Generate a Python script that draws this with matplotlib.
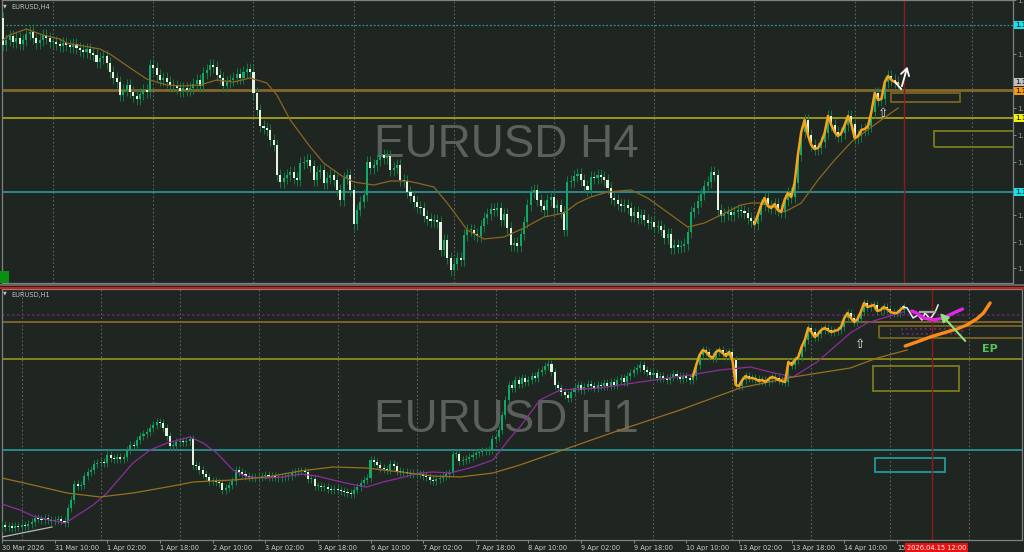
import numpy as np
import matplotlib
matplotlib.use("Agg")
import matplotlib.pyplot as plt
from matplotlib.patches import Rectangle
from matplotlib.lines import Line2D
from matplotlib.transforms import blended_transform_factory

W, H = 1024, 552
BG = '#1f2622'
GRID = '#5c625e'
BULL = '#0fa866'
BEAR = '#e4f4dc'
WICK_C = '#147a46'

# ---------------- data (prices x 10000) ----------------
# EURUSD H4 (top pane)
h4_first_open = 11782
h4_close = [
    11755, 11760, 11764, 11758, 11762, 11756, 11760, 11766, 11768, 11762,
    11757, 11760, 11765, 11762, 11758, 11758, 11756, 11754, 11757, 11755,
    11753, 11756, 11752, 11750, 11748, 11751, 11747, 11745, 11738, 11742,
    11744, 11737, 11728, 11722, 11718, 11705, 11710, 11715, 11708, 11704,
    11701, 11706, 11710, 11708, 11735, 11732, 11725, 11720, 11722, 11718,
    11715, 11714, 11712, 11709, 11712, 11710, 11712, 11716, 11720, 11714,
    11727, 11730, 11735, 11733, 11725, 11722, 11714, 11718, 11720, 11722,
    11726, 11722, 11728, 11731, 11728, 11707, 11690, 11674, 11672, 11670,
    11660, 11655, 11625, 11618, 11622, 11625, 11628, 11622, 11620, 11637,
    11638, 11640, 11634, 11620, 11628, 11630, 11617, 11622, 11625, 11620,
    11610, 11600, 11622, 11625, 11610, 11576, 11590, 11598, 11605, 11638,
    11632, 11635, 11640, 11645, 11642, 11644, 11630, 11632, 11635, 11620,
    11619, 11608, 11604, 11598, 11593, 11592, 11584, 11581, 11579, 11580,
    11578, 11550, 11560, 11542, 11530, 11536, 11542, 11540, 11565, 11570,
    11570, 11566, 11564, 11574, 11582, 11586, 11591, 11590, 11592, 11580,
    11586, 11572, 11555, 11557, 11554, 11566, 11578, 11595, 11608, 11610,
    11600, 11594, 11590, 11600, 11603, 11592, 11595, 11588, 11570, 11618,
    11619, 11624, 11626, 11620, 11614, 11610, 11623, 11622, 11625, 11623,
    11620, 11612, 11602, 11600, 11596, 11594, 11595, 11592, 11584, 11588,
    11582, 11585, 11580, 11577, 11578, 11573, 11574, 11570, 11562, 11566,
    11552, 11555, 11553, 11554, 11556, 11568, 11588, 11592, 11599, 11606,
    11614, 11618, 11628, 11625, 11590, 11584, 11586, 11588, 11585, 11588,
    11590, 11589, 11587, 11582, 11579, 11576, 11585, 11595, 11602, 11594,
    11592, 11596, 11590, 11588, 11600, 11607, 11603, 11617, 11645, 11668,
    11680, 11665, 11655, 11651, 11652, 11658, 11667, 11684, 11675, 11668,
    11664, 11667, 11675, 11684, 11676, 11662, 11664, 11670, 11671, 11674,
    11688, 11707, 11700, 11701, 11718, 11724, 11720, 11718, 11716,
]
h4_zigzag_from = 225
h4_ma_bar = [0, 2, 7, 12, 17, 19, 29, 32, 39, 43, 49, 54, 59, 64, 69, 74, 79, 82, 86,
             92, 96, 101, 105, 111, 116, 121, 124, 129, 133, 139, 144, 150, 156, 162,
             168, 172, 176, 181, 188, 193, 198, 205, 210, 215, 221, 224, 228, 234,
             239, 244, 249, 254, 260, 268]
h4_ma_val = [11760, 11765, 11771, 11765, 11761, 11757, 11751, 11746, 11730, 11721,
             11715, 11714, 11715, 11720, 11718, 11722, 11717, 11705, 11680, 11653,
             11637, 11625, 11618, 11615, 11619, 11619, 11617, 11613, 11597, 11570,
             11561, 11563, 11572, 11583, 11587, 11597, 11603, 11608, 11610, 11602,
             11590, 11573, 11577, 11585, 11595, 11597, 11597, 11588, 11597, 11620,
             11640, 11658, 11673, 11692]
h4_levels = {'cyan_dot': 11775, 'brown': 11710, 'yellow': 11682, 'cyan': 11608}
h4_zones = [(265.9, 286.5, 11698, 11707, '#7a6222'), (278.7, 306.0, 11653, 11669, '#7c7a1c')]
h4_ticks = [11800, 11746, 11692, 11665, 11638, 11585, 11558, 11532]
h4_tags = [(11775, '#19e0e6'), (11718, '#bfbfbf'), (11709, '#f29a12'),
           (11682, '#f0f010'), (11608, '#19e0e6')]
h4_arrow_bar = [267.1, 268.9, 271.0]
h4_arrow_val = [11718, 11711, 11736]
h4_grid = [15, 45, 75, 105, 135, 165, 195, 225, 255, 290]
h4_now = 269.8

# EURUSD H1 (bottom pane)
h1_first_open = 11372
h1_close = [
    11375, 11373, 11374, 11372, 11374, 11373, 11375, 11374, 11376, 11378,
    11382, 11381, 11380, 11382, 11380, 11379, 11380, 11381, 11379, 11377,
    11392, 11400, 11416, 11414, 11415, 11424, 11428, 11430, 11436, 11437,
    11438, 11437, 11445, 11442, 11441, 11443, 11441, 11443, 11450, 11455,
    11454, 11460, 11464, 11466, 11468, 11472, 11475, 11478, 11477, 11472,
    11464, 11454, 11454, 11458, 11459, 11458, 11459, 11461, 11435, 11434,
    11430, 11426, 11423, 11419, 11419, 11418, 11417, 11410, 11412, 11415,
    11419, 11430, 11428, 11426, 11424, 11423, 11423, 11422, 11423, 11424,
    11425, 11423, 11424, 11423, 11422, 11423, 11424, 11424, 11427, 11428,
    11429, 11429, 11428, 11421, 11421, 11414, 11414, 11413, 11413, 11411,
    11410, 11411, 11410, 11409, 11408, 11407, 11406, 11410, 11413, 11417,
    11420, 11422, 11440, 11438, 11435, 11432, 11431, 11430, 11436, 11434,
    11429, 11428, 11428, 11427, 11426, 11427, 11426, 11426, 11424, 11423,
    11420, 11419, 11421, 11422, 11424, 11426, 11427, 11446, 11446, 11439,
    11440, 11441, 11443, 11445, 11447, 11448, 11449, 11449, 11450, 11461,
    11463, 11470, 11485, 11500, 11515, 11512, 11520, 11516, 11522, 11518,
    11520, 11524, 11522, 11528, 11530, 11534, 11536, 11528, 11515, 11512,
    11508, 11505, 11502, 11508, 11512, 11515, 11510, 11513, 11516, 11514,
    11512, 11515, 11514, 11517, 11514, 11518, 11515, 11520, 11522, 11518,
    11524, 11527, 11530, 11532, 11535, 11530, 11528, 11525, 11527, 11522,
    11524, 11522, 11520, 11523, 11526, 11524, 11521, 11524, 11522, 11520,
    11524, 11535, 11545, 11550, 11548, 11544, 11542, 11548, 11550, 11547,
    11544, 11548, 11540, 11515, 11514, 11520, 11524, 11522, 11522, 11521,
    11519, 11520, 11518, 11521, 11523, 11522, 11520, 11519, 11518, 11538,
    11535, 11540, 11543, 11553, 11560, 11572, 11568, 11563, 11566, 11570,
    11572, 11570, 11568, 11569, 11570, 11573, 11582, 11587, 11582, 11578,
    11581, 11588, 11597, 11593, 11594, 11595, 11589, 11590, 11593, 11591,
    11588, 11587, 11587, 11590, 11593,
]
h1_zigzag_from = 210
h1_fast_bar = [0, 5.5, 9.4, 14.6, 19.1, 20.7, 27.7, 31.9, 39.8, 45, 50.2, 57.1, 61.1, 65.3,
               70.2, 74.5, 80.5, 85.4, 90.6, 95.7, 100.6, 105.8, 110.9, 115.8, 121, 127,
               131, 136.2, 143.2, 149.2, 154.4, 157.4, 163.5, 169.6, 181.8, 193.9, 209.1,
               218.2, 227.4, 233.4, 240.4, 247.7, 252.6, 257.8, 262.9, 267.8, 273.9]
h1_fast_val = [11396, 11390, 11384, 11380, 11377, 11380, 11395, 11407, 11437, 11450, 11457,
               11463, 11457, 11447, 11430, 11423, 11422, 11423, 11426, 11424, 11420, 11416,
               11413, 11418, 11422, 11427, 11428, 11427, 11433, 11440, 11462, 11473, 11500,
               11510, 11512, 11518, 11525, 11530, 11533, 11528, 11523, 11538, 11552, 11567,
               11577, 11582, 11588]
h1_slow_bar = [0, 9.4, 19.8, 29.8, 39.8, 50.2, 58.1, 70.2, 80.5, 90.6, 100.6, 110.9, 121,
               131, 139.2, 149.2, 157.4, 174.8, 187.8, 206.1, 224.3, 240.4, 257.8, 266, 275.1]
h1_slow_val = [11422, 11415, 11407, 11403, 11407, 11413, 11418, 11420, 11423, 11429, 11433,
               11432, 11428, 11424, 11423, 11427, 11435, 11455, 11470, 11490, 11512, 11523,
               11532, 11542, 11550]
h1_levels = {'purple_dot': 11585, 'brown': 11578, 'olive': 11541, 'cyan': 11450}
h1_zones = [(266.6, 312.0, 11562, 11574, '#7a6222', '-'),
            (273.6, 291.8, 11566, 11571, '#6a2a7a', ':'),
            (264.7, 290.9, 11509, 11534, '#7c7a1c', '-'),
            (265.3, 286.6, 11428, 11442, '#1f9a9a', '-')]
h1_tick_labels = ['30 Mar 2026', '31 Mar 10:00', '1 Apr 02:00', '1 Apr 18:00', '2 Apr 10:00',
                  '3 Apr 02:00', '3 Apr 18:00', '6 Apr 10:00', '7 Apr 02:00', '7 Apr 18:00',
                  '8 Apr 10:00', '9 Apr 02:00', '9 Apr 18:00', '10 Apr 10:00', '13 Apr 02:00',
                  '13 Apr 18:00', '14 Apr 10:00', '15']
h1_now = 282.7
h1_now_label = '2026.04.15 12:00'
h1_white_bar = [273.9, 275.1, 276.0, 276.9, 278.4, 279.6, 280.5, 282.1, 283.6, 284.5]
h1_white_val = [11593, 11592, 11587, 11582, 11585, 11580, 11587, 11581, 11588, 11595]
h1_magenta_bar = [276.5, 278.0, 280.0, 283.1, 286.1, 289.2, 291.9]
h1_magenta_val = [11589, 11587, 11582, 11580, 11582, 11587, 11591]
h1_orange_bar = [274.5, 278.0, 282.1, 286.1, 290.2, 293.2, 296.2, 298.3, 300.3]
h1_orange_val = [11554, 11558, 11563, 11567, 11571, 11575, 11581, 11587, 11597]
h1_trend_bar = [0, 15.2]
h1_trend_val = [11363, 11373]

S = 1e4


def fx(px):
    return px / W


def fy(py):
    return 1 - py / H


def draw_candles(ax, first_open, closes, wick):
    c = np.asarray(closes, float) / S
    o = np.concatenate([[first_open / S], c[:-1]])
    x = np.arange(len(c))
    hi = np.maximum(o, c) + wick
    lo = np.minimum(o, c) - wick
    ax.vlines(x, lo, hi, color=WICK_C, lw=0.7, zorder=3)
    up = c >= o
    bh = np.maximum(np.abs(c - o), 0.00012)
    bot = np.minimum(o, c)
    ax.bar(x[up], bh[up], bottom=bot[up], width=0.62, color=BULL, lw=0, zorder=4)
    ax.bar(x[~up], bh[~up], bottom=bot[~up], width=0.62, color=BEAR, lw=0, zorder=4)
    return x, c


def style_ax(ax):
    ax.set_facecolor(BG)
    for s in ax.spines.values():
        s.set_color('#7d827f')
        s.set_linewidth(0.9)


fig = plt.figure(figsize=(W / 100, H / 100), dpi=100, facecolor=BG)

# ---------------- top pane (H4) ----------------
ax1 = fig.add_axes([fx(2), fy(283), fx(1013 - 2), 283 / H])
style_ax(ax1)
ax1.set_xlim(-0.3, 302.4)
ax1.set_ylim(1.1517, 1.1800)
for g in h4_grid:
    ax1.axvline(g, color=GRID, lw=0.8, ls=(0, (1.5, 2)), zorder=1)
ax1.axhline(h4_levels['cyan_dot'] / S, color='#2a8f95', lw=0.9, ls=(0, (1.5, 1.5)), zorder=2)
ax1.axhline(h4_levels['brown'] / S, color='#86672a', lw=2.0, zorder=2)
ax1.axhline(h4_levels['yellow'] / S, color='#9a9a18', lw=1.4, zorder=2)
ax1.axhline(h4_levels['cyan'] / S, color='#2a9a9c', lw=1.2, zorder=2)
for x0, x1, y0, y1, col in h4_zones:
    ax1.add_patch(Rectangle((x0, y0 / S), x1 - x0, (y1 - y0) / S, fill=False,
                            ec=col, lw=1.3, zorder=2, clip_on=True))
ax1.axvline(h4_now, color='#8c1c1c', lw=1.0, zorder=2)
ax1.text(0.499, 1.1643, 'EURUSD H4', transform=blended_transform_factory(ax1.transAxes, ax1.transData),
         ha='center', va='baseline', fontsize=33, family='Liberation Sans', color='#5b605d', zorder=0.5)
xb, cb = draw_candles(ax1, h4_first_open, h4_close, 0.0006)
ax1.plot(np.array(h4_ma_bar), np.array(h4_ma_val) / S, color='#8a6621', lw=0.9, zorder=5)
ax1.plot(xb[h4_zigzag_from:], cb[h4_zigzag_from:], color='#f4a41c', lw=1.8, zorder=6,
         solid_joinstyle='round')
ax1.plot(h4_arrow_bar[:2], np.array(h4_arrow_val[:2]) / S, color='white', lw=1.3, zorder=7)
ax1.annotate('', xy=(h4_arrow_bar[2], h4_arrow_val[2] / S),
             xytext=(h4_arrow_bar[1], h4_arrow_val[1] / S),
             arrowprops=dict(arrowstyle='->,head_length=0.5,head_width=0.3', color='white', lw=1.3),
             zorder=7)
ax1.text(263.5, 1.1687, '⇧', color='#e8e8e8', fontsize=9, ha='center', va='center', zorder=7)
ax1.text(0.009, 0.985, 'EURUSD,H4', transform=ax1.transAxes, fontsize=4.8, color='#bfc3c0',
         va='top', ha='left')
ax1.text(0.001, 0.988, '▼', transform=ax1.transAxes, fontsize=3.5, color='#bfc3c0',
         va='top', ha='left')
ax1.yaxis.tick_right()
ax1.set_yticks(np.array(h4_ticks) / S)
ax1.set_yticklabels([f'{v / S:.5f}' for v in h4_ticks])
ax1.tick_params(axis='y', colors='#9a9e9b', labelsize=5, length=2, pad=1, width=0.6)
ax1.tick_params(axis='x', length=0, labelbottom=False)
tr1 = blended_transform_factory(ax1.transAxes, ax1.transData)
for v, col in h4_tags:
    ax1.text(1.002, v / S, f'{v / S:.5f}', transform=tr1, fontsize=5, color='black',
             va='center', ha='left', clip_on=False,
             bbox=dict(boxstyle='square,pad=0.2', fc=col, ec='none'))

# ---------------- bottom pane (H1) ----------------
ax2 = fig.add_axes([fx(2), fy(540), fx(1022 - 2), (540 - 289) / H])
style_ax(ax2)
ax2.set_xlim(0, 310)
ax2.set_ylim(1.1360, 1.1611)
for g in range(6, 311, 24):
    ax2.axvline(g, color=GRID, lw=0.8, ls=(0, (1.5, 2)), zorder=1)
ax2.axhline(h1_levels['purple_dot'] / S, color='#5e2a6c', lw=1.2, ls=(0, (1.5, 1.5)), zorder=2)
ax2.axhline(h1_levels['brown'] / S, color='#86672a', lw=1.3, zorder=2)
ax2.axhline(h1_levels['olive'] / S, color='#8c8c1a', lw=1.3, zorder=2)
ax2.axhline(h1_levels['cyan'] / S, color='#2a9a9c', lw=1.2, zorder=2)
for x0, x1, y0, y1, col, ls in h1_zones:
    ax2.add_patch(Rectangle((x0, y0 / S), x1 - x0, (y1 - y0) / S, fill=False,
                            ec=col, lw=1.3, ls=ls, zorder=2))
ax2.axvline(h1_now, color='#8c1c1c', lw=1.0, zorder=2)
ax2.text(0.494, 1.1468, 'EURUSD H1', transform=blended_transform_factory(ax2.transAxes, ax2.transData),
         ha='center', va='baseline', fontsize=33, family='Liberation Sans', color='#5b605d', zorder=0.5)
xb2, cb2 = draw_candles(ax2, h1_first_open, h1_close, 0.0004)
ax2.plot(h1_fast_bar, np.array(h1_fast_val) / S, color='#8e2c9c', lw=0.9, zorder=5)
ax2.plot(h1_slow_bar, np.array(h1_slow_val) / S, color='#98701f', lw=0.9, zorder=5)
ax2.plot(xb2[h1_zigzag_from:], cb2[h1_zigzag_from:], color='#f4a41c', lw=1.8, zorder=6,
         solid_joinstyle='round')
ax2.plot(h1_trend_bar, np.array(h1_trend_val) / S, color='#b8b8b8', lw=0.9, zorder=6)
ax2.plot(h1_white_bar, np.array(h1_white_val) / S, color='#f0f0f0', lw=1.1, zorder=6)
ax2.plot([279.0, 283.6], [1.1588, 1.1588], color='#a8a8a8', lw=1.6, zorder=6)
ax2.plot(h1_magenta_bar, np.array(h1_magenta_val) / S, color='#e426e4', lw=2.4, zorder=7,
         solid_capstyle='round')
ax2.plot(h1_orange_bar, np.array(h1_orange_val) / S, color='#fb8a1a', lw=2.4, zorder=7,
         solid_capstyle='round')
ax2.annotate('', xy=(284.5, 1.1589), xytext=(293.3, 1.1557),
             arrowprops=dict(arrowstyle='-|>,head_length=0.5,head_width=0.25',
                             color='#8ee07c', lw=1.5), zorder=8)
ax2.text(297.9, 1.1551, 'EP', color='#52c45a', fontsize=8, fontweight='bold',
         va='center', ha='left', zorder=8)
ax2.text(260.8, 1.1555, '⇧', color='#e8e8e8', fontsize=9, ha='center', va='center', zorder=7)
ax2.text(0.009, 0.99, 'EURUSD,H1', transform=ax2.transAxes, fontsize=4.8, color='#bfc3c0',
         va='top', ha='left')
ax2.text(0.001, 0.993, '▼', transform=ax2.transAxes, fontsize=3.5, color='#bfc3c0',
         va='top', ha='left')
ax2.set_yticks([])
ax2.set_xticks(np.arange(len(h1_tick_labels)) * 16)
ax2.set_xticklabels(h1_tick_labels, ha='left')
ax2.tick_params(axis='x', colors='#9a9e9b', labelcolor='#c9ccca', labelsize=4.8,
                length=2, pad=1.5, width=0.6)
trx = blended_transform_factory(ax2.transData, ax2.transAxes)
ax2.text(275.0, -0.018, h1_now_label, transform=trx, fontsize=4.8, color='white',
         va='top', ha='left', clip_on=False,
         bbox=dict(boxstyle='square,pad=0.25', fc='#ee1010', ec='none'), zorder=10)

# ---------------- frame decorations ----------------
fig.add_artist(Line2D([0, 1], [fy(284.5), fy(284.5)], color='#6e7370', lw=1.2))
fig.add_artist(Line2D([0, 1], [fy(287.5), fy(287.5)], color='#e01818', lw=1.4))
fig.add_artist(Rectangle((0, fy(283)), fx(9), 12 / H, color='#0b8f12', lw=0))

fig.savefig('out.png', dpi=100, facecolor=BG)
